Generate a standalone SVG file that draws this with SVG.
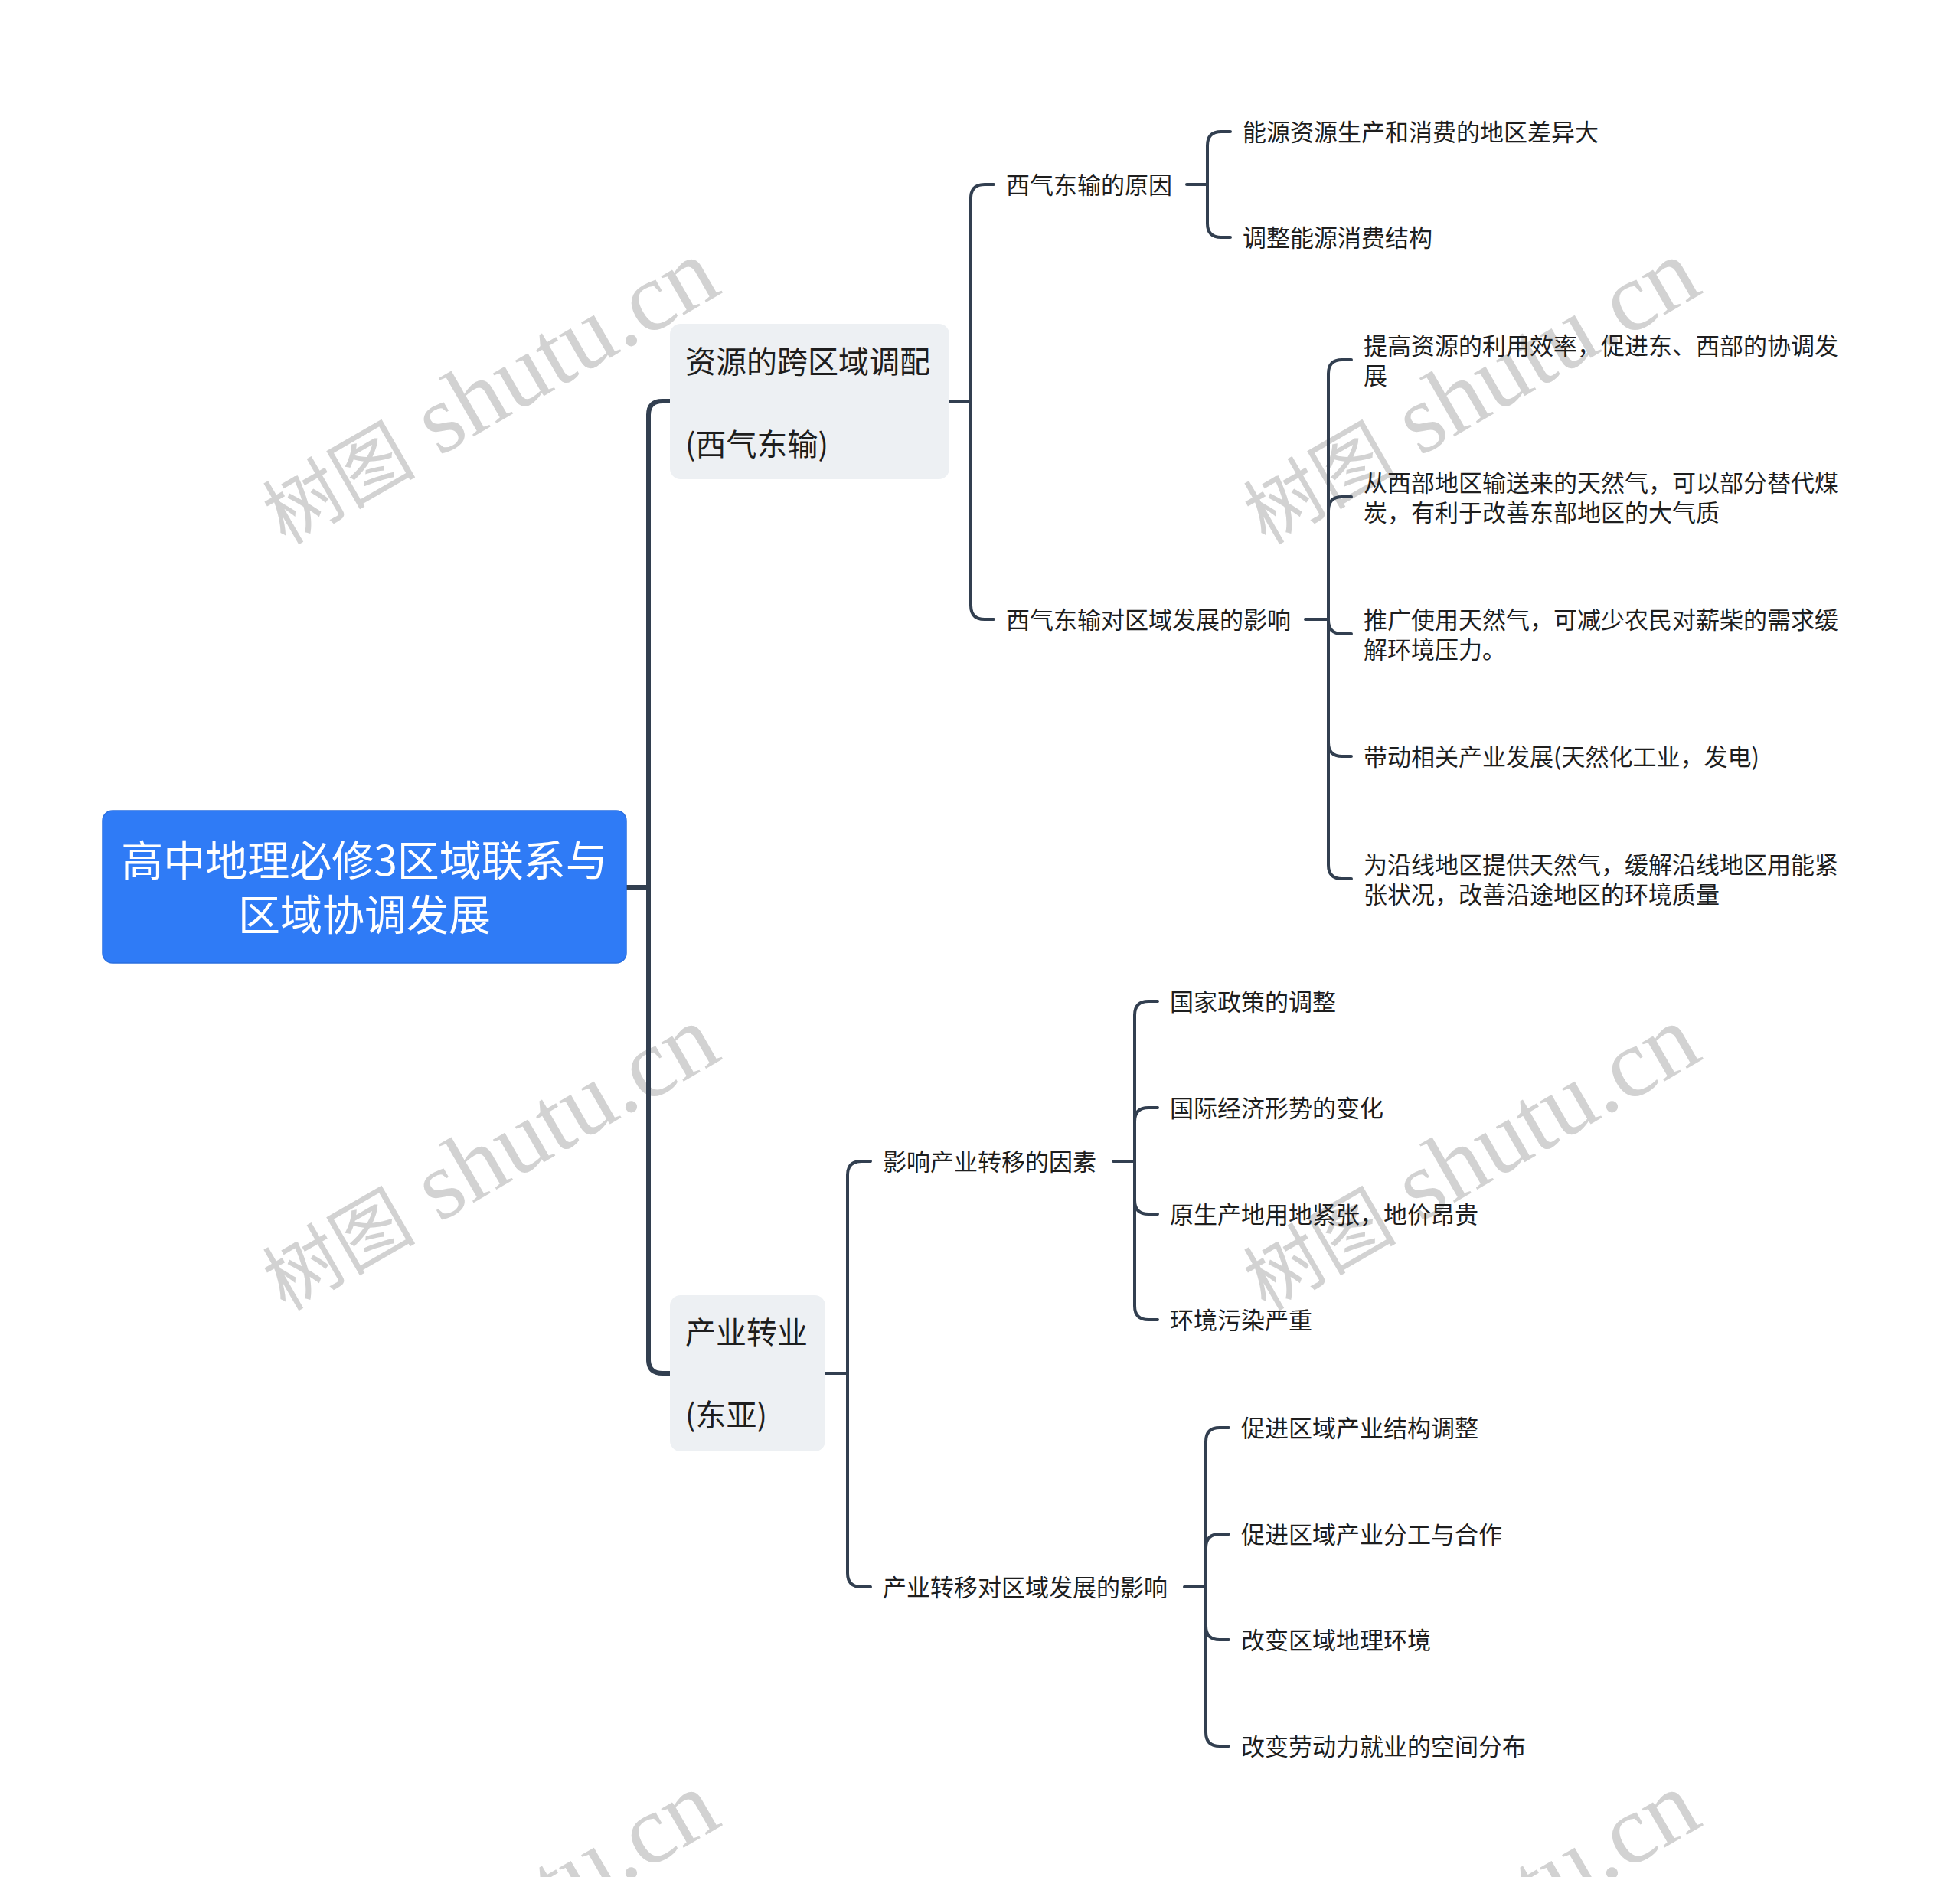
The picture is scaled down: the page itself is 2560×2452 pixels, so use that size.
<svg xmlns="http://www.w3.org/2000/svg" width="2560" height="2452" viewBox="0 0 2560 2452">
<style>
.wm{font-family:"Liberation Serif","Noto Sans CJK SC",serif;font-size:128px;fill:#d2d2d2;text-anchor:middle}
.wmc{font-size:100px}
.t{font-family:"Noto Sans CJK SC",sans-serif;font-size:31px;fill:#1e1e1e}
.tb{font-family:"Noto Sans CJK SC",sans-serif;font-size:40px;fill:#1e1e1e}
.tr{font-family:"Noto Sans CJK SC",sans-serif;font-size:55px;fill:#ffffff;text-anchor:middle}
.c{fill:none;stroke:#323f50;stroke-width:4;stroke-linecap:round;stroke-linejoin:round}
.c0{stroke-width:6}
.nb{fill:#edf0f3}
</style>
<rect width="2560" height="2452" fill="#ffffff"/>
<g id="watermarks">
<text class="wm" transform="translate(640,514) rotate(-30)" y="38"><tspan class="wmc">树图</tspan> shutu.cn</text>
<text class="wm" transform="translate(1921,514) rotate(-30)" y="38"><tspan class="wmc">树图</tspan> shutu.cn</text>
<text class="wm" transform="translate(640,1515) rotate(-30)" y="38"><tspan class="wmc">树图</tspan> shutu.cn</text>
<text class="wm" transform="translate(1921,1515) rotate(-30)" y="38"><tspan class="wmc">树图</tspan> shutu.cn</text>
<text class="wm" transform="translate(640,2516) rotate(-30)" y="38"><tspan class="wmc">树图</tspan> shutu.cn</text>
<text class="wm" transform="translate(1921,2516) rotate(-30)" y="38"><tspan class="wmc">树图</tspan> shutu.cn</text>
</g>
<g id="connectors">
<path class="c c0" d="M818,1159 H847"/>
<path class="c c0" d="M875,524 H865 Q847,524 847,542 V1776 Q847,1794 865,1794 H875"/>
<path class="c" d="M1240,524 H1268"/>
<path class="c" d="M1298,241 H1286 Q1268,241 1268,259 V791 Q1268,809 1286,809 H1298"/>
<path class="c" d="M1550,241 H1577"/>
<path class="c" d="M1607,172 H1595 Q1577,172 1577,190 V292 Q1577,310 1595,310 H1607"/>
<path class="c" d="M1705,809 H1735"/>
<path class="c" d="M1765,470 H1753 Q1735,470 1735,488 V1130 Q1735,1148 1753,1148 H1765"/>
<path class="c" d="M1735,667 Q1735,649 1753,649 H1765"/>
<path class="c" d="M1735,810 Q1735,828 1753,828 H1765"/>
<path class="c" d="M1735,970 Q1735,988 1753,988 H1765"/>
<path class="c" d="M1078,1794 H1107"/>
<path class="c" d="M1137,1517 H1125 Q1107,1517 1107,1535 V2055 Q1107,2073 1125,2073 H1137"/>
<path class="c" d="M1454,1517 H1482"/>
<path class="c" d="M1512,1308 H1500 Q1482,1308 1482,1326 V1706 Q1482,1724 1500,1724 H1512"/>
<path class="c" d="M1482,1465 Q1482,1447 1500,1447 H1512"/>
<path class="c" d="M1482,1568 Q1482,1586 1500,1586 H1512"/>
<path class="c" d="M1547,2073 H1575"/>
<path class="c" d="M1605,1865 H1593 Q1575,1865 1575,1883 V2263 Q1575,2281 1593,2281 H1605"/>
<path class="c" d="M1575,2022 Q1575,2004 1593,2004 H1605"/>
<path class="c" d="M1575,2124 Q1575,2142 1593,2142 H1605"/>
</g>
<g id="root">
<rect x="134" y="1059" width="684" height="199" rx="13" fill="#2f7bf6" stroke="#2a6fe0" stroke-width="1.5"/>
<text class="tr" x="476" y="1144">高中地理必修3区域联系与</text>
<text class="tr" x="476" y="1215">区域协调发展</text>
</g>
<g id="n1">
<rect class="nb" x="875" y="423" width="365" height="203" rx="14"/>
<text class="tb" x="895" y="487">资源的跨区域调配</text>
<text class="tb" x="895" y="595">(西气东输)</text>
</g>
<g id="n1a"><text class="t" x="1314" y="253">西气东输的原因</text></g>
<g id="n1a1"><text class="t" x="1623" y="184">能源资源生产和消费的地区差异大</text></g>
<g id="n1a2"><text class="t" x="1623" y="322">调整能源消费结构</text></g>
<g id="n1b"><text class="t" x="1314" y="821">西气东输对区域发展的影响</text></g>
<g id="n1b1"><text class="t" x="1781" y="463">提高资源的利用效率，促进东、西部的协调发</text><text class="t" x="1781" y="502">展</text></g>
<g id="n1b2"><text class="t" x="1781" y="642">从西部地区输送来的天然气，可以部分替代煤</text><text class="t" x="1781" y="681">炭，有利于改善东部地区的大气质</text></g>
<g id="n1b3"><text class="t" x="1781" y="821">推广使用天然气，可减少农民对薪柴的需求缓</text><text class="t" x="1781" y="860">解环境压力。</text></g>
<g id="n1b4"><text class="t" x="1781" y="1000">带动相关产业发展(天然化工业，发电)</text></g>
<g id="n1b5"><text class="t" x="1781" y="1141">为沿线地区提供天然气，缓解沿线地区用能紧</text><text class="t" x="1781" y="1180">张状况，改善沿途地区的环境质量</text></g>
<g id="n2">
<rect class="nb" x="875" y="1692" width="203" height="204" rx="14"/>
<text class="tb" x="895" y="1755">产业转业</text>
<text class="tb" x="895" y="1863">(东亚)</text>
</g>
<g id="n2a"><text class="t" x="1153" y="1529">影响产业转移的因素</text></g>
<g id="n2a1"><text class="t" x="1528" y="1320">国家政策的调整</text></g>
<g id="n2a2"><text class="t" x="1528" y="1459">国际经济形势的变化</text></g>
<g id="n2a3"><text class="t" x="1528" y="1598">原生产地用地紧张，地价昂贵</text></g>
<g id="n2a4"><text class="t" x="1528" y="1736">环境污染严重</text></g>
<g id="n2b"><text class="t" x="1153" y="2085">产业转移对区域发展的影响</text></g>
<g id="n2b1"><text class="t" x="1621" y="1877">促进区域产业结构调整</text></g>
<g id="n2b2"><text class="t" x="1621" y="2016">促进区域产业分工与合作</text></g>
<g id="n2b3"><text class="t" x="1621" y="2154">改变区域地理环境</text></g>
<g id="n2b4"><text class="t" x="1621" y="2293">改变劳动力就业的空间分布</text></g>
</svg>
